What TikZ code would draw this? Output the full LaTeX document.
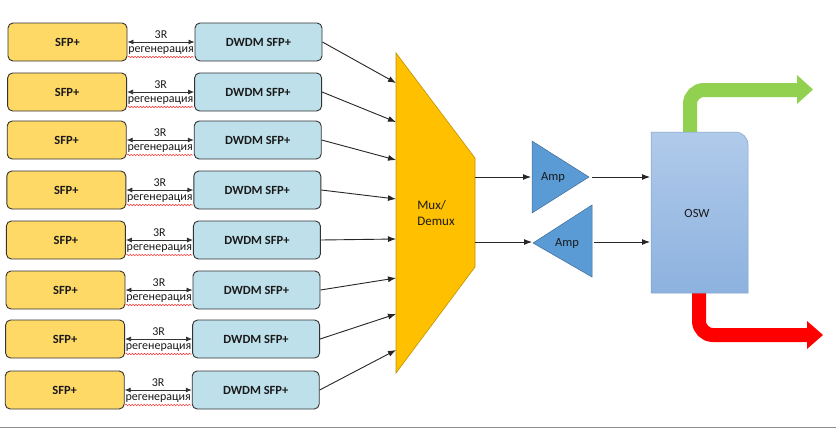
\documentclass[tikz,border=0pt]{standalone}
\usepackage{fontspec}
\setmainfont{Carlito}
\usetikzlibrary{arrows.meta,decorations.pathmorphing}
\definecolor{sfpy}{HTML}{FFD966}
\definecolor{dwdmb}{HTML}{BEE0EB}
\definecolor{muxc}{HTML}{FFC000}
\definecolor{ampc}{HTML}{5B9BD5}
\definecolor{oswtop}{HTML}{B0CAEA}
\definecolor{oswbot}{HTML}{8DB2DF}
\definecolor{grn}{HTML}{92D050}
\definecolor{rd}{HTML}{FF0000}
\definecolor{txt}{HTML}{1A1A1A}
\tikzset{
  sfpbox/.style={draw=black!80, fill=sfpy, rounded corners=5pt, line width=0.9pt,
    minimum width=119pt, minimum height=38pt, inner sep=0pt,
    font=\fontsize{12.5}{14}\selectfont\bfseries, text=txt},
  dwdmbox/.style={draw=black!80, fill=dwdmb, rounded corners=5pt, line width=0.9pt,
    minimum width=127pt, minimum height=38pt, inner sep=0pt,
    font=\fontsize{12.5}{14}\selectfont\bfseries, text=txt},
  regarrow/.style={{Latex[length=6pt,width=5pt]}-{Latex[length=6pt,width=5pt]}, line width=0.8pt, draw=black!80},
  lbl/.style={font=\fontsize{12}{14}\selectfont, text=txt, inner sep=0pt},
  conn/.style={-{Latex[length=8pt,width=6pt]}, line width=0.9pt, draw=black!85},
  wavy/.style={draw=rd!80, line width=0.5pt, decorate, decoration={snake, amplitude=0.8pt, segment length=3pt}},
  amptri/.style={fill=ampc, draw=ampc!70!black, line width=0.5pt},
  bigarrow/.style={line width=14pt},
}
\begin{document}
\begin{tikzpicture}[x=1pt,y=-1pt]
\useasboundingbox (0,0) rectangle (836,429);
\fill[white] (0,0) rectangle (836,429);
\draw[black!45, line width=1pt] (0,427.5) -- (836,427.5);

% rows
\foreach \i/\y/\my in {1/42/83,2/92/122,3/140/160,4/190/199,5/240/239,6/290/278,7/339/314,8/390/350}{
  \pgfmathsetmacro{\dx}{-0.4*(\i-1)}
  \node[sfpbox] (s\i) at (67.5+\dx,\y) {SFP+};
  \node[dwdmbox] (d\i) at (258.5+\dx,\y) {DWDM SFP+};
  \draw[regarrow] (s\i.east) -- (d\i.west);
  \node[lbl, anchor=base] (t\i) at (161+\dx,\y-4) {3R};
  \node[lbl, anchor=base] (r\i) at (161+\dx,\y+10) {регенерация};
  \draw[wavy] (128+\dx,\y+15) -- (194+\dx,\y+15);
  \coordinate (m\i) at (396,\my);
}

% Mux/Demux
\draw[fill=muxc, draw=muxc!75!black, line width=0.6pt] (396,53) -- (475,158) -- (475,267) -- (396,373) -- cycle;
\node[font=\fontsize{13}{16}\selectfont, text=txt, align=left] (mux) at (436,213) {Mux/\\Demux};

\foreach \i in {1,...,8}{
  \draw[conn] (d\i.east) -- (m\i);
}

% amplifiers
\draw[amptri] (532,141) -- (589,177) -- (532,213) -- cycle;
\draw[amptri] (533,243) -- (592,205) -- (592,277) -- cycle;
\node[font=\fontsize{12.5}{14}\selectfont, text=txt] (amp1) at (553,177) {Amp};
\node[font=\fontsize{12.5}{14}\selectfont, text=txt] (amp2) at (567,243) {Amp};

\coordinate (mo1) at (475,177);
\coordinate (mo2) at (475,242);
\coordinate (a1in) at (531,177);
\coordinate (a1out) at (592,177);
\coordinate (a2in) at (532,242);
\coordinate (a2out) at (594,242);
\coordinate (o1) at (650,177);
\coordinate (o2) at (650,242);
\draw[conn] (mo1) -- (a1in);
\draw[conn] (a1out) -- (o1);
\draw[conn] (mo2) -- (a2in);
\draw[conn] (a2out) -- (o2);

% green and red arrows
\draw[grn, bigarrow, rounded corners=14pt] (690,134) -- (690,90) -- (799,90);
\fill[grn] (797,75) -- (813,89.5) -- (797,104) -- cycle;
\draw[rd, bigarrow, rounded corners=14pt] (699,291) -- (699,335) -- (809,335);
\fill[rd] (807,321) -- (823,335) -- (807,349) -- cycle;

% OSW
\shade[top color=oswtop, bottom color=oswbot, draw=oswbot!90!black, line width=0.5pt]
  (651,293) -- (651,132) -- (735,132) .. controls (742.5,132) and (748,137.5) .. (748,145) -- (748,293) -- cycle;
\node[font=\fontsize{12.5}{14}\selectfont, text=txt] (osw) at (697,213) {OSW};
\end{tikzpicture}
\end{document}
